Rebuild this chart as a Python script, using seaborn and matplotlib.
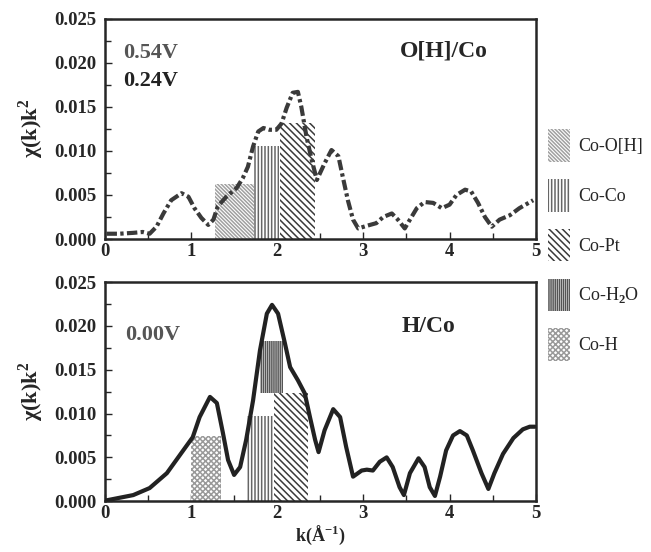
import numpy as np
import pandas as pd
import matplotlib
matplotlib.use("Agg")
import matplotlib.pyplot as plt
import matplotlib.patches as mpatches
import seaborn as sns

# O[H]/Co curve (0.54 V / 0.24 V difference)
k_top = [0.02, 0.17, 0.33, 0.44, 0.52, 0.60, 0.68, 0.77, 0.89, 0.97, 1.04, 1.12, 1.20,
         1.26, 1.31, 1.41, 1.53, 1.60, 1.66, 1.72, 1.78, 1.84, 1.91, 1.99, 2.05, 2.11,
         2.18, 2.24, 2.28, 2.34, 2.40, 2.46, 2.55, 2.63, 2.71, 2.76, 2.82, 2.88, 2.94,
         3.04, 3.15, 3.23, 3.33, 3.40, 3.48, 3.54, 3.62, 3.71, 3.81, 3.91, 4.00, 4.08,
         4.18, 4.25, 4.33, 4.41, 4.49, 4.58, 4.70, 4.81, 4.97]
chi_top = [0.0006, 0.0006, 0.0007, 0.0008, 0.0006, 0.0014, 0.0029, 0.0044, 0.0052,
           0.0048, 0.0035, 0.0024, 0.0016, 0.0022, 0.0037, 0.0048, 0.0058, 0.0069,
           0.0082, 0.0105, 0.0122, 0.0126, 0.0124, 0.0124, 0.0131, 0.0149, 0.0166,
           0.0167, 0.0150, 0.0116, 0.0090, 0.0067, 0.0086, 0.0101, 0.0094, 0.0071,
           0.0044, 0.0022, 0.0012, 0.0015, 0.0018, 0.0025, 0.0029, 0.0022, 0.0012,
           0.0022, 0.0035, 0.0042, 0.0041, 0.0035, 0.0039, 0.0050, 0.0056, 0.0054,
           0.0041, 0.0025, 0.0014, 0.0022, 0.0027, 0.0035, 0.0044]

# H/Co curve (0.00 V)
k_bot = [0.02, 0.33, 0.52, 0.72, 0.91, 1.02, 1.10, 1.22, 1.30, 1.37, 1.43, 1.50, 1.57,
         1.64, 1.72, 1.80, 1.88, 1.94, 2.01, 2.09, 2.15, 2.24, 2.32, 2.38, 2.44, 2.48,
         2.55, 2.65, 2.73, 2.80, 2.88, 2.98, 3.04, 3.11, 3.19, 3.27, 3.34, 3.42, 3.47,
         3.54, 3.64, 3.71, 3.77, 3.83, 3.89, 3.96, 4.04, 4.12, 4.20, 4.27, 4.37, 4.45,
         4.52, 4.62, 4.74, 4.85, 4.93, 4.99]
chi_bot = [0.0001, 0.0007, 0.0015, 0.0032, 0.0058, 0.0073, 0.0096, 0.0119, 0.0112,
           0.0078, 0.0047, 0.0030, 0.0039, 0.0070, 0.0115, 0.0172, 0.0214, 0.0224,
           0.0214, 0.0180, 0.0153, 0.0138, 0.0123, 0.0096, 0.0070, 0.0056, 0.0081,
           0.0105, 0.0096, 0.0062, 0.0028, 0.0035, 0.0036, 0.0035, 0.0045, 0.0050,
           0.0039, 0.0016, 0.0007, 0.0032, 0.0049, 0.0039, 0.0016, 0.0006, 0.0028,
           0.0058, 0.0075, 0.0080, 0.0075, 0.0058, 0.0032, 0.0014, 0.0032, 0.0054,
           0.0072, 0.0082, 0.0085, 0.0085]

# fitted shell ranges (k start, k end, lower, upper)
shell_names = ["Co-O[H]", "Co-Co", "Co-Pt", "Co-H$_2$O", "Co-H"]
top_shells = ["Co-O[H]", "Co-Co", "Co-Pt"]
top_start = [1.28, 1.73, 2.03]
top_end = [1.73, 2.02, 2.44]
top_low = [0.0, 0.0, 0.0]
top_high = [0.0062, 0.0106, 0.0132]

bot_shells = ["Co-H", "Co-Co", "Co-H$_2$O", "Co-Pt"]
bot_start = [1.00, 1.64, 1.80, 1.96]
bot_end = [1.35, 1.95, 2.07, 2.36]
bot_low = [0.0, 0.0, 0.0124, 0.0]
bot_high = [0.0074, 0.0097, 0.0183, 0.0123]

hatches = {"Co-O[H]": "\\" * 9, "Co-Co": "|" * 5, "Co-Pt": "\\" * 5,
           "Co-H$_2$O": "|" * 8, "Co-H": "x" * 6}
hatch_col = {"Co-O[H]": "#a0a0a0", "Co-Co": "#666666", "Co-Pt": "#3a3a3a",
             "Co-H$_2$O": "#555555", "Co-H": "#9a9a9a"}

sns.set_style("ticks")
plt.rcParams["font.family"] = ["Liberation Serif", "DejaVu Serif"]
plt.rcParams["font.weight"] = "bold"
plt.rcParams["hatch.linewidth"] = 1.1
plt.rcParams["mathtext.fontset"] = "custom"
plt.rcParams["mathtext.rm"] = "Liberation Serif"
plt.rcParams["mathtext.bf"] = "Liberation Serif:bold"

fig = plt.figure(figsize=(6.51, 5.52), dpi=100)
ax1 = fig.add_axes([0.161, 0.567, 0.662, 0.399])
ax2 = fig.add_axes([0.161, 0.092, 0.662, 0.397])


def draw_bars(ax, names, start, end, low, high):
    for n, s, e, lo, hi in zip(names, start, end, low, high):
        ax.bar(s, hi - lo, width=e - s, bottom=lo, align="edge", facecolor="white",
               edgecolor=hatch_col[n], hatch=hatches[n], linewidth=0, zorder=1)


draw_bars(ax1, top_shells, top_start, top_end, top_low, top_high)
draw_bars(ax2, bot_shells, bot_start, bot_end, bot_low, bot_high)

df_top = pd.DataFrame({"k": k_top, "chi": chi_top})
df_bot = pd.DataFrame({"k": k_bot, "chi": chi_bot})
sns.lineplot(data=df_top, x="k", y="chi", ax=ax1, color="#3a3a3a", lw=3,
             linestyle=(0, (2.5, 0.8, 0.8, 0.8)), zorder=3)
sns.lineplot(data=df_bot, x="k", y="chi", ax=ax2, color="#222222", lw=3, zorder=3)

for ax in (ax1, ax2):
    ax.set_xlim(0, 5)
    ax.set_ylim(0, 0.025)
    ax.set_xticks([0, 1, 2, 3, 4, 5])
    ax.set_xticks(np.arange(0.5, 5, 1), minor=True)
    ax.set_yticks(np.arange(0, 0.0251, 0.005))
    ax.set_yticks(np.arange(0.0025, 0.025, 0.005), minor=True)
    ax.set_yticklabels([f"{v:.3f}" for v in np.arange(0, 0.0251, 0.005)])
    ax.tick_params(direction="in", length=5, width=1, labelsize=13.5)
    ax.tick_params(axis="y", pad=6)
    ax.tick_params(axis="x", pad=3)
    ax.tick_params(which="minor", direction="in", length=4, width=1)
    for sp in ax.spines.values():
        sp.set_linewidth(1.8)
    ax.set_ylabel(r"$\mathbf{\chi}$(k)k$^\mathbf{2}$", fontsize=16, fontweight="bold",
                  labelpad=6)
    ax.set_xlabel("")

ax1.text(0.21, 0.0206, "0.54V", fontsize=16, fontweight="bold", color="#555555")
ax1.text(0.21, 0.0174, "0.24V", fontsize=16, fontweight="bold", color="#222222")
ax1.text(3.42, 0.0207, "O[H]/Co", fontsize=17, fontweight="bold")
ax2.text(0.23, 0.0184, "0.00V", fontsize=16, fontweight="bold", color="#555555")
ax2.text(3.44, 0.0193, "H/Co", fontsize=17, fontweight="bold")
ax2.set_xlabel("k(Å$^{\\mathbf{-1}}$)", fontsize=13, fontweight="bold", labelpad=1)

handles = [mpatches.Patch(facecolor="white", edgecolor=hatch_col[n], hatch=hatches[n],
                          linewidth=0, label=n) for n in shell_names]
fig.legend(handles=handles, loc="upper left", bbox_to_anchor=(0.817, 0.795),
           frameon=False, handlelength=1.2, handleheight=2.4,
           labelspacing=0.95, handletextpad=0.45,
           prop={"family": "Liberation Serif", "weight": "normal", "size": 13})

fig.savefig("out.png", dpi=100)
